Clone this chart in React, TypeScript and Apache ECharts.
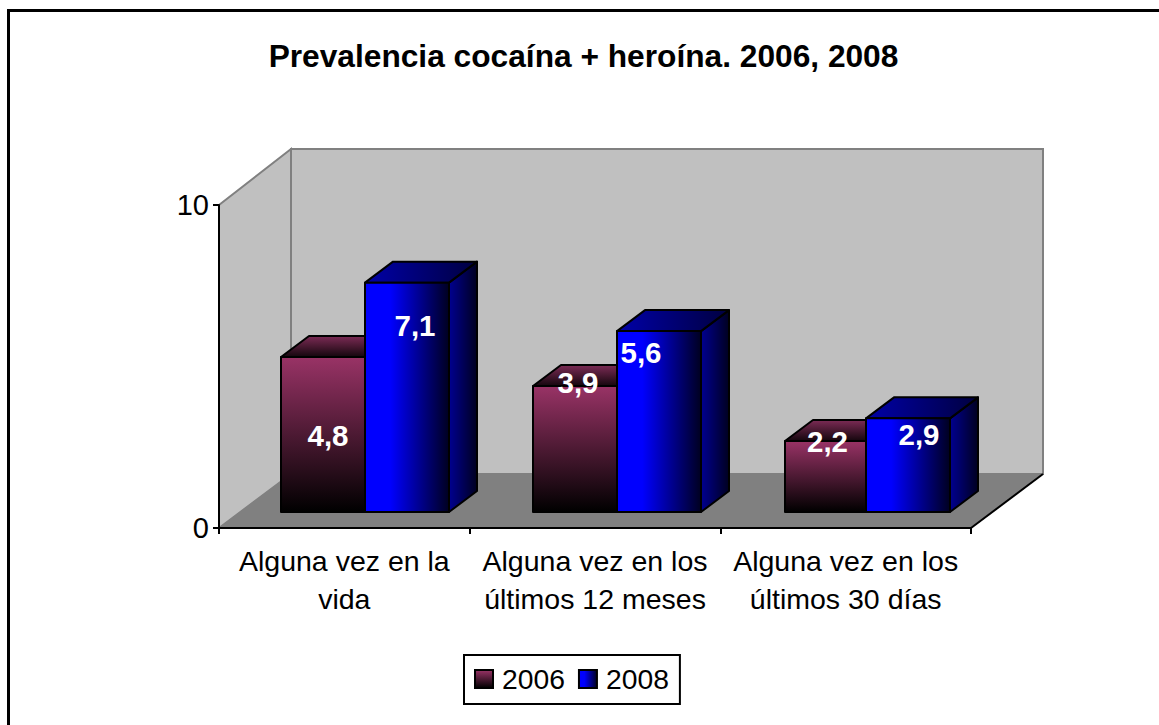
import React, { useEffect, useRef } from "react";
import * as echarts from "echarts";

const titleText = "Prevalencia cocaína + heroína. 2006, 2008";
const categories = ["Alguna vez en la\nvida", "Alguna vez en los\núltimos 12 meses", "Alguna vez en los\núltimos 30 días"];
const values2006 = [4.8, 3.9, 2.2];
const values2008 = [7.1, 5.6, 2.9];
const labelNudge2006 = [[5, 79], [3, -4], [2, 1]];
const labelNudge2008 = [[8, 43], [-18, 21], [11, 16]];
const groupNudge = [0, 1, -1];
const leftBarWidth = [84, 84, 81];

const FONT = '"Liberation Sans", Arial, sans-serif';
const SHIFT_X = 21, SHIFT_Y = 16, DEPTH_X = 28, DEPTH_Y = 21, BAR_W = 84;

const vGrad = (a: string, b: string) => new echarts.graphic.LinearGradient(0, 0, 0, 1, [{ offset: 0, color: a }, { offset: 1, color: b }]);
const hGrad = (stops: [number, string][]) => new echarts.graphic.LinearGradient(0, 0, 1, 0, stops.map(([offset, color]) => ({ offset, color })));

const faces2006 = {
  front: () => vGrad("#993366", "#000000"),
  top: () => vGrad("#7c2b55", "#14060d"),
  side: () => vGrad("#7c2b55", "#000000"),
};
const faces2008 = {
  front: () => hGrad([[0, "#0000ff"], [0.3, "#0000ff"], [1, "#000020"]]),
  top: () => hGrad([[0, "#0000a8"], [1, "#000040"]]),
  side: () => hGrad([[0, "#000090"], [1, "#000020"]]),
};

function makeBar(side: -1 | 1, faces: any, nudges: number[][]) {
  return (_params: any, api: any) => {
    const i = api.value(0);
    const v = api.value(1);
    const base = api.coord([i, 0]);
    const top = api.coord([i, v]);
    const cx = Math.round(base[0] + SHIFT_X + groupNudge[i]);
    const w = side < 0 ? leftBarWidth[i] : BAR_W;
    const x0 = side < 0 ? cx - w : cx;
    const x1 = x0 + w;
    const yb = base[1] - SHIFT_Y;
    const yt = top[1] - SHIFT_Y;
    const stroke = { stroke: "#000000", lineWidth: 2, lineJoin: "round" };
    const [nx, ny] = nudges[i];
    return {
      type: "group",
      children: [
        { type: "polygon", shape: { points: [[x1, yt], [x1 + DEPTH_X, yt - DEPTH_Y], [x1 + DEPTH_X, yb - DEPTH_Y], [x1, yb]] }, style: { fill: faces.side(), ...stroke } },
        { type: "polygon", shape: { points: [[x0, yt], [x0 + DEPTH_X, yt - DEPTH_Y], [x1 + DEPTH_X, yt - DEPTH_Y], [x1, yt]] }, style: { fill: faces.top(), ...stroke } },
        { type: "rect", shape: { x: x0, y: yt, width: w, height: yb - yt }, style: { fill: faces.front(), ...stroke } },
        { type: "text", z2: 10, style: { x: x0 + w / 2 + nx, y: yt + ny, text: String(v).replace(".", ","), fill: "#ffffff", font: `bold 29.5px ${FONT}`, textAlign: "center", textVerticalAlign: "middle" } },
      ],
    };
  };
}

export default function App() {
  const ref = useRef<HTMLDivElement>(null);
  useEffect(() => {
    const chart = echarts.init(ref.current!, null, { renderer: "svg" });
    const wall = { fill: "#c0c0c0", stroke: "#808080", lineWidth: 2 };
    chart.setOption({
      animation: false,
      backgroundColor: "#ffffff",
      title: { text: titleText, left: 583.5, top: 40, textAlign: "center", padding: 0, textStyle: { fontFamily: FONT, fontWeight: "bold", fontSize: 31.7, color: "#000" } },
      grid: { left: 219, top: 205, width: 752, height: 323, containLabel: false },
      xAxis: {
        type: "category", data: categories, z: 5,
        axisLine: { lineStyle: { color: "#000", width: 2 } },
        axisTick: { show: true, length: 6, lineStyle: { color: "#000", width: 2 } },
        axisLabel: { fontFamily: FONT, fontSize: 28.5, color: "#000", margin: 14, lineHeight: 38, interval: 0 },
      },
      yAxis: {
        type: "value", min: 0, max: 10, interval: 10, z: 5,
        splitLine: { show: false },
        axisLine: { show: true, lineStyle: { color: "#000", width: 2 } },
        axisTick: { show: true, length: 6, lineStyle: { color: "#000", width: 2 } },
        axisLabel: { fontFamily: FONT, fontSize: 29, color: "#000", margin: 10 },
      },
      legend: {
        left: 464, top: 655, padding: [10, 11, 11, 10],
        data: ["2006", "2008"], icon: "rect", itemWidth: 18, itemHeight: 18, itemGap: 13,
        borderColor: "#000", borderWidth: 2, backgroundColor: "#fff",
        textStyle: { fontFamily: FONT, fontSize: 28.3, color: "#000", padding: [0, 0, 0, 4] },
      },
      graphic: [
        { type: "rect", z: -10, shape: { x: 8.5, y: 10.5, width: 1170, height: 730 }, style: { fill: "#fff", stroke: "#000", lineWidth: 3 } },
        { type: "polygon", z: -5, shape: { points: [[219, 205], [291, 149], [291, 474], [219, 528]] }, style: wall },
        { type: "rect", z: -5, shape: { x: 291, y: 149, width: 752, height: 325 }, style: wall },
        { type: "polygon", z: -4, shape: { points: [[219, 528], [291, 474], [1043, 474], [971, 528]] }, style: { fill: "#808080", stroke: "#808080", lineWidth: 1 } },
        { type: "line", z: -3, shape: { x1: 971, y1: 528, x2: 1043, y2: 474 }, style: { stroke: "#000", lineWidth: 2 } },
      ],
      series: [
        {
          name: "2006", type: "custom", clip: false, z: 6,
          itemStyle: { color: faces2006.front(), borderColor: "#000", borderWidth: 2 },
          encode: { x: 0, y: 1 },
          data: values2006.map((v, i) => [i, v]),
          renderItem: makeBar(-1, faces2006, labelNudge2006),
        },
        {
          name: "2008", type: "custom", clip: false, z: 7,
          itemStyle: { color: faces2008.front(), borderColor: "#000", borderWidth: 2 },
          encode: { x: 0, y: 1 },
          data: values2008.map((v, i) => [i, v]),
          renderItem: makeBar(1, faces2008, labelNudge2008),
        },
      ],
    });
    return () => chart.dispose();
  }, []);
  return <div ref={ref} style={{ position: "fixed", left: 0, top: 0, width: 1159, height: 725 }} />;
}
